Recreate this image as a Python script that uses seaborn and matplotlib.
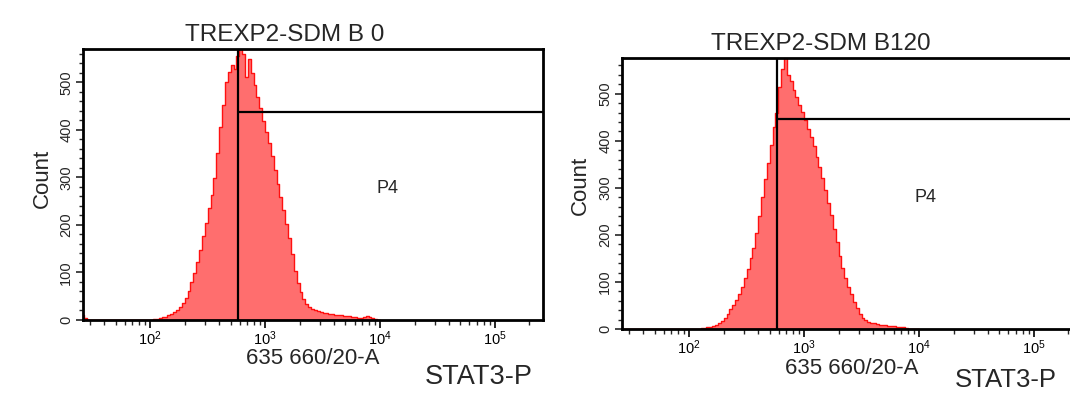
import numpy as np
import pandas as pd
import matplotlib
matplotlib.use("Agg")
import matplotlib.pyplot as plt
import seaborn as sns
from matplotlib.ticker import LogLocator, MultipleLocator, NullFormatter

# ---------------- data ----------------
titles = ["TREXP2-SDM B 0", "TREXP2-SDM B120"]
gate_name = "P4"
x_label = "635 660/20-A"
marker_label = "STAT3-P"
y_label = "Count"

bin_start = 1.4          # log10 units
bin_width = 0.025        # log10 units

# counts per bin, first panel (B 0)
counts_b0_low = [10, 4] + [0] * 22
counts_b0 = [1, 2, 3, 4, 6, 7, 10, 12, 16, 20,
             27, 36, 46, 62, 80, 98, 122, 148, 176, 203,
             236, 262, 298, 352, 405, 452, 500, 522, 536, 528,
             556, 572, 560, 512, 548, 520, 494, 470, 446, 418,
             396, 372, 344, 316, 286, 258, 232, 202, 172, 138,
             104, 78, 58, 44, 34, 28, 24, 20, 18, 16,
             15, 14, 12, 12, 11, 10, 10, 9, 8, 8,
             6, 7, 5, 5, 6, 8, 7, 4, 2, 0]

# counts per bin, second panel (B120)
counts_b120_low = [0] * 24
counts_b120 = [0, 0, 0, 0, 2, 3, 4, 5, 7, 9,
               12, 18, 24, 32, 42, 50, 62, 75, 90, 108,
               128, 150, 172, 205, 240, 280, 318, 352, 392, 430,
               458, 515, 552, 575, 540, 528, 508, 494, 476, 462,
               445, 425, 408, 388, 366, 345, 320, 296, 268, 242,
               212, 184, 156, 130, 108, 90, 74, 58, 44, 32,
               24, 19, 15, 13, 12, 10, 9, 8, 8, 7,
               6, 6, 5, 5, 4, 3, 0, 0, 0, 0]

gate_x = [583, 580]          # vertical gate position (data units)
gate_y = [438, 447]          # horizontal gate level (counts)
y_max = [570, 577]
x_lim = (26, 262144)

# ---------------- style ----------------
sns.set_style("white")
plt.rcParams["font.family"] = ["Liberation Sans", "DejaVu Sans"]
plt.rcParams["mathtext.default"] = "regular"

W, H = 1070, 393
fig = plt.figure(figsize=(W / 100, H / 100), dpi=100)

def fx(px):
    return px / W

def fy(py):
    return 1 - py / H

# axes boxes in pixel coords: left, top, right, bottom
boxes = [(83, 49, 543, 320), (622, 57.5, 1082, 329)]
fill_col = "#ff6e6e"
edge_col = "#ff1010"

all_low = [counts_b0_low, counts_b120_low]
all_main = [counts_b0, counts_b120]

for i in range(2):
    l, t, r, b = boxes[i]
    ax = fig.add_axes([fx(l), fy(b), fx(r) - fx(l), fy(t) - fy(b)])
    counts = list(all_low[i]) + list(all_main[i])
    centers = bin_start + bin_width * (np.arange(len(counts)) + 0.5)
    df = pd.DataFrame({"value": 10 ** centers, "count": counts})
    sns.histplot(data=df, x="value", weights="count", log_scale=True,
                 binwidth=bin_width,
                 binrange=(bin_start, bin_start + bin_width * len(counts)),
                 element="step", fill=True, color=fill_col, alpha=1,
                 edgecolor=edge_col, linewidth=1.0, ax=ax)
    ax.set_xlim(*x_lim)
    ax.set_ylim(0, y_max[i])
    # gate
    ax.axvline(gate_x[i], color="black", lw=1.6, zorder=5)
    ax.hlines(gate_y[i], gate_x[i], x_lim[1], color="black", lw=1.6, zorder=5)
    # spines
    for s in ax.spines.values():
        s.set_visible(True)
        s.set_color("black")
        s.set_linewidth(2.0)
    ax.set_xlabel("")
    ax.set_ylabel("")
    ax.xaxis.set_major_locator(LogLocator(base=10, numticks=10))
    ax.xaxis.set_minor_locator(LogLocator(base=10, subs=np.arange(2, 10), numticks=20))
    ax.xaxis.set_minor_formatter(NullFormatter())
    ax.yaxis.set_major_locator(MultipleLocator(100))
    ax.yaxis.set_minor_locator(MultipleLocator(20))
    ax.tick_params(axis="x", which="major", direction="out", length=6, width=1.2,
                   labelsize=10.5, pad=1, colors="black", bottom=True)
    ax.tick_params(axis="x", which="minor", direction="out", length=3.5, width=1.0,
                   bottom=True)
    ax.tick_params(axis="y", which="major", direction="out", length=5, width=1.2,
                   labelsize=10.5, pad=2, left=True)
    ax.tick_params(axis="y", which="minor", direction="out", length=3, width=1.0,
                   left=True)
    for lab in ax.get_yticklabels():
        lab.set_rotation(90)
        lab.set_va("center")
    ax.set_facecolor("white")

# texts (pixel positions)
fig.text(fx(285), fy(35), titles[0], ha="center", va="center", fontsize=17.5)
fig.text(fx(821), fy(44), titles[1], ha="center", va="center", fontsize=17.5)

fig.text(fx(388), fy(188), gate_name, ha="center", va="center", fontsize=13)
fig.text(fx(925), fy(197), gate_name, ha="center", va="center", fontsize=13)

fig.text(fx(42), fy(178), y_label, ha="center", va="center", rotation=90, fontsize=16)
fig.text(fx(580), fy(185), y_label, ha="center", va="center", rotation=90, fontsize=16)

fig.text(fx(313), fy(359), x_label, ha="center", va="center", fontsize=16)
fig.text(fx(852), fy(368), x_label, ha="center", va="center", fontsize=16)

fig.text(fx(479), fy(377), marker_label, ha="center", va="center", fontsize=19.5)
fig.text(fx(955), fy(380), marker_label, ha="left", va="center", fontsize=18.5)

fig.savefig("out.png", dpi=100, facecolor="white")
